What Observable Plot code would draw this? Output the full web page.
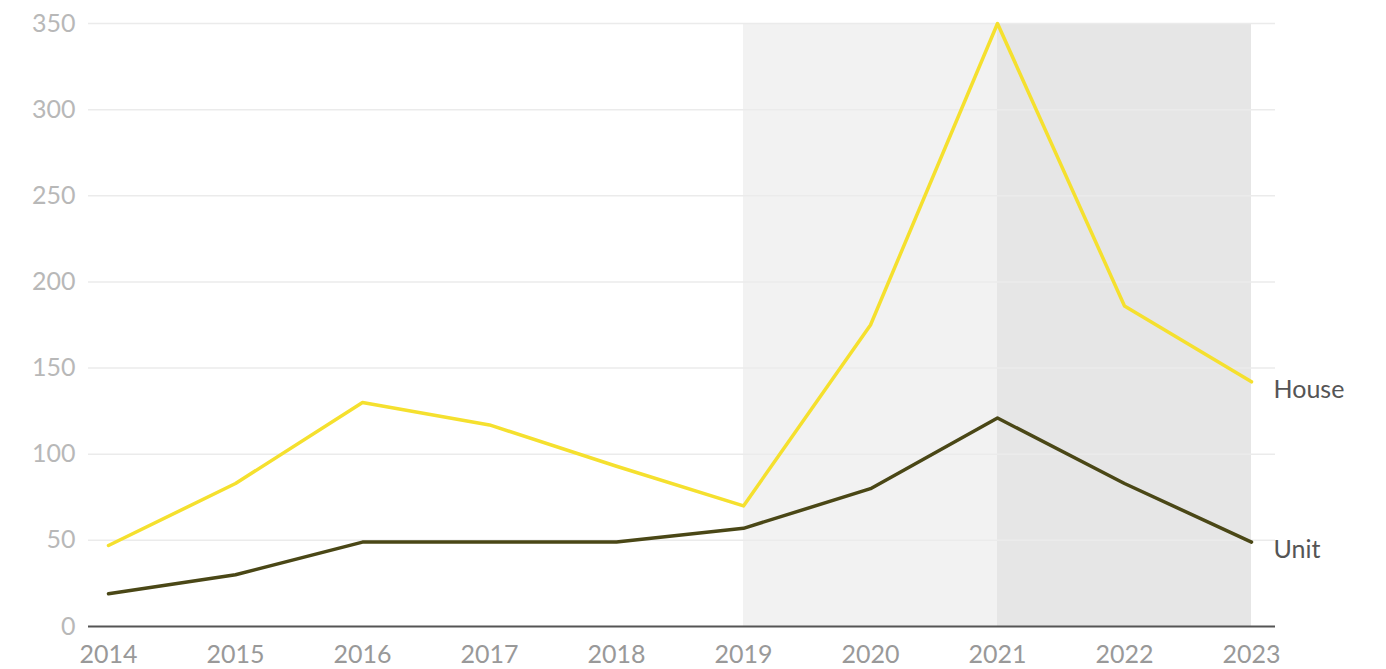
<!DOCTYPE html>
<html>
<head>
<meta charset="utf-8">
<script src="https://cdn.jsdelivr.net/npm/d3@7"></script>
<script src="https://cdn.jsdelivr.net/npm/@observablehq/plot@0.6"></script>
<style>
  html, body { margin: 0; padding: 0; background: #fff; }
  #chart svg { display: block; }
</style>
</head>
<body>
<div id="chart"></div>
<script>
const years = [2014, 2015, 2016, 2017, 2018, 2019, 2020, 2021, 2022, 2023];
const house = [47, 83, 130, 117, 93, 70, 175, 350, 186, 142];
const unit = [19, 30, 49, 49, 49, 57, 80, 121, 83, 49];
const yTicks = [0, 50, 100, 150, 200, 250, 300, 350];
const shadeBands = [
  {x1: 2019, x2: 2021, fill: "#f2f2f2"},
  {x1: 2021, x2: 2023, fill: "#e6e6e6"}
];
const seriesLabels = ["House", "Unit"];

const houseData = years.map((y, i) => ({year: y, value: house[i]}));
const unitData = years.map((y, i) => ({year: y, value: unit[i]}));
const endLabels = [
  {year: years[years.length - 1], value: house[house.length - 1], label: seriesLabels[0]},
  {year: years[years.length - 1], value: unit[unit.length - 1], label: seriesLabels[1]}
];

const chart = Plot.plot({
  width: 1386,
  height: 669,
  marginLeft: 108,
  marginRight: 135,
  marginTop: 23,
  marginBottom: 43,
  style: {fontFamily: "Lato, sans-serif", fontSize: "25px", background: "#fff"},
  x: {domain: [2014, 2023], ticks: years, tickFormat: "d", label: null},
  y: {domain: [0, 350], ticks: yTicks, label: null},
  marks: [
    Plot.rect(shadeBands, {x1: "x1", x2: "x2", y1: 0, y2: 350, fill: "fill"}),
    Plot.ruleY(yTicks.filter(d => d > 0), {stroke: "#ebebeb", strokeWidth: 1.5, insetLeft: -20, insetRight: -24}),
    Plot.ruleY([0], {stroke: "#555", strokeWidth: 2, insetLeft: -20, insetRight: -24}),
    Plot.axisY({ticks: yTicks, tickSize: 0, tickPadding: 33, fill: "#b8b8b8", fontSize: 25, label: null}),
    Plot.axisX({ticks: years, tickFormat: "d", tickSize: 0, tickPadding: 19, fill: "#999", fontSize: 25, label: null}),
    Plot.line(houseData, {x: "year", y: "value", stroke: "#f5e02e", strokeWidth: 3.5}),
    Plot.line(unitData, {x: "year", y: "value", stroke: "#4a4716", strokeWidth: 3.5}),
    Plot.text(endLabels, {x: "year", y: "value", text: "label", dx: 22, dy: 8, textAnchor: "start", fill: "#555", fontSize: 25})
  ]
});
document.getElementById("chart").appendChild(chart);
</script>
</body>
</html>
